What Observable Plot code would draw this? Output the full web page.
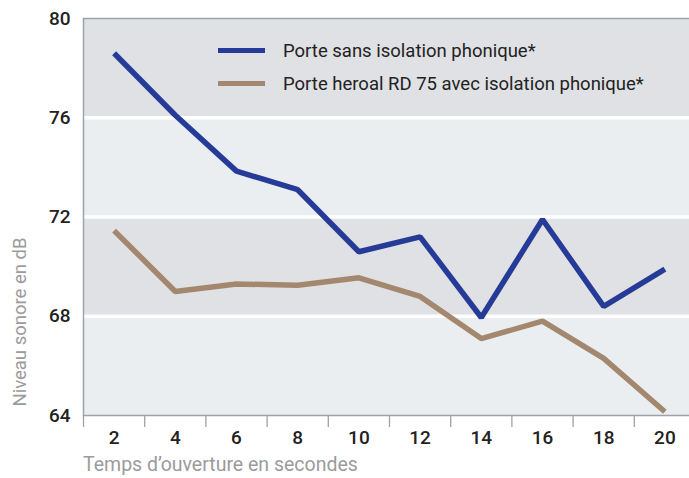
<!DOCTYPE html>
<html>
<head>
<meta charset="utf-8">
<script src="https://cdn.jsdelivr.net/npm/d3@7"></script>
<script src="https://cdn.jsdelivr.net/npm/@observablehq/plot@0.6"></script>
<style>
  html, body { margin: 0; padding: 0; background: #ffffff; overflow: hidden; }
  #wrap { position: relative; width: 689px; height: 478px; font-family: Roboto, "Noto Sans", sans-serif; }
  .ytitle { position: absolute; left: 20px; top: 322px; transform: translate(-50%, -50%) rotate(-90deg); white-space: nowrap; color: #9b9b9b; font-size: 18.5px; line-height: 20px; }
  .xtitle { position: absolute; left: 83px; top: 455px; white-space: nowrap; color: #9b9b9b; font-size: 19.5px; line-height: 20px; }
  .legend { position: absolute; left: 218px; top: 34px; color: #222; font-size: 18.5px; }
  .legend .item { display: flex; align-items: center; height: 33px; }
  .legend .sw { width: 47px; height: 5px; margin-right: 18px; }
</style>
</head>
<body>
<div id="wrap"></div>
<script>
// Data
const times = [2, 4, 6, 8, 10, 12, 14, 16, 18, 20];
const sansIsolation = [78.6, 76.1, 73.85, 73.1, 70.6, 71.2, 67.95, 71.9, 68.4, 69.9];
const avecIsolation = [71.45, 69.0, 69.3, 69.25, 69.55, 68.8, 67.1, 67.8, 66.3, 64.15];
const seriesNames = ["Porte sans isolation phonique*", "Porte heroal RD 75 avec isolation phonique*"];
const seriesColors = ["#263a97", "#a3886f"];
const yTicks = [64, 68, 72, 76, 80];
const bandEdges = [64, 68, 72, 76, 80];
const bandFills = ["#ebeef1", "#dfe1e4", "#ebeef1", "#dfe1e4"];
const boundaryTicks = [1, 3, 5, 7, 9, 11, 13, 15, 17, 19];

const bands = bandFills.map((f, i) => ({ y1: bandEdges[i], y2: bandEdges[i + 1], fill: f }));
const rows = [];
times.forEach((t, i) => {
  rows.push({ t, v: sansIsolation[i], s: seriesNames[0] });
  rows.push({ t, v: avecIsolation[i], s: seriesNames[1] });
});

const chart = Plot.plot({
  width: 689,
  height: 478,
  marginTop: 18,
  marginBottom: 63,
  marginLeft: 83,
  marginRight: -6,
  style: { fontFamily: "Roboto, 'Noto Sans', sans-serif", fontSize: "18px", color: "#222", background: "transparent" },
  x: { domain: [1, 21] },
  y: { domain: [64, 80] },
  color: { domain: seriesNames, range: seriesColors },
  marks: [
    Plot.rect(bands, { y1: "y1", y2: "y2", fill: "fill" }),
    Plot.ruleY(yTicks.slice(1, -1), { stroke: "#ffffff", strokeWidth: 3.5 }),
    Plot.frame({ stroke: "#9aa3a9", strokeWidth: 1.5 }),
    Plot.axisX(boundaryTicks, { tickSize: 12, stroke: "#9aa3a9", strokeWidth: 1.3, tickFormat: () => "", label: null }),
    Plot.axisX(times, { tickSize: 0, tickPadding: 15, fontSize: 19, fontWeight: 500, label: null }),
    Plot.axisY(yTicks, { tickSize: 0, tickPadding: 13, fontSize: 19, fontWeight: 500, label: null }),
    Plot.line(rows, { x: "t", y: "v", z: "s", stroke: "s", strokeWidth: 5.5, strokeLinecap: "butt", strokeLinejoin: "miter" })
  ]
});

const wrap = document.getElementById("wrap");
wrap.appendChild(chart);

const yt = document.createElement("div");
yt.className = "ytitle";
yt.textContent = "Niveau sonore en dB";
wrap.appendChild(yt);

const xt = document.createElement("div");
xt.className = "xtitle";
xt.textContent = "Temps d\u2019ouverture en secondes";
wrap.appendChild(xt);

const lg = document.createElement("div");
lg.className = "legend";
seriesNames.forEach((n, i) => {
  const it = document.createElement("div");
  it.className = "item";
  const sw = document.createElement("div");
  sw.className = "sw";
  sw.style.background = seriesColors[i];
  const tx = document.createElement("span");
  tx.textContent = n;
  it.appendChild(sw);
  it.appendChild(tx);
  lg.appendChild(it);
});
wrap.appendChild(lg);
</script>
</body>
</html>
